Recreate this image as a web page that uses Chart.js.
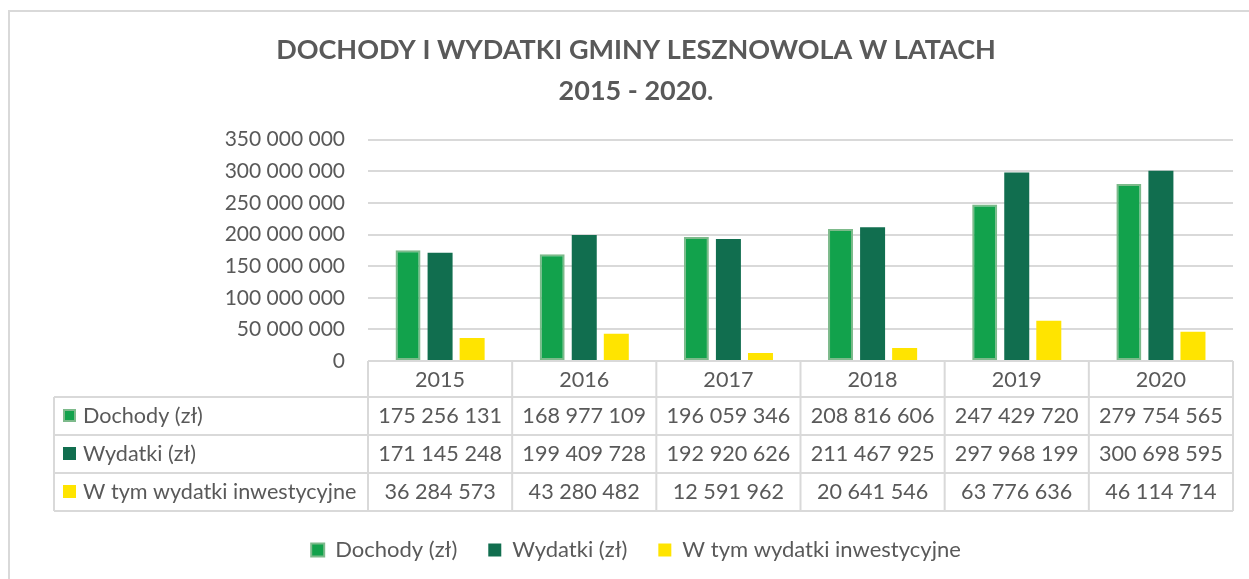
<!DOCTYPE html>
<html lang="pl">
<head>
    <meta charset="UTF-8">
    <title>Dochody i wydatki Gminy Lesznowola</title>
    <script src="https://cdn.jsdelivr.net/npm/chart.js"></script>
    <style>
        html, body { margin: 0; padding: 0; background: #fff; }
        #wrap { position: relative; width: 1249px; height: 579px; }
    </style>
</head>
<body>
    <div id="wrap">
        <canvas id="budgetChart" width="1249" height="579"></canvas>
    </div>
    <script>
        // dane budżetowe 2015-2020
        const years = ['2015', '2016', '2017', '2018', '2019', '2020'];
        const dochody = [175256131, 168977109, 196059346, 208816606, 247429720, 279754565];
        const wydatki = [171145248, 199409728, 192920626, 211467925, 297968199, 300698595];
        const inwestycyjne = [36284573, 43280482, 12591962, 20641546, 63776636, 46114714];

        const seriesNames = ['Dochody (zł)', 'Wydatki (zł)', 'W tym wydatki inwestycyjne'];
        const seriesFill = ['#12a24c', '#116e4f', '#ffe400'];
        const seriesBorder = ['#7dba8b', '#116e4f', '#ffe400'];

        const textColor = '#595959';
        const lineColor = '#d9d9d9';
        const fontFamily = 'Lato, "Open Sans", sans-serif';

        function fmt(v) {
            return String(v).replace(/\B(?=(\d{3})+(?!\d))/g, ' ');
        }

        // ramka wykresu
        const framePlugin = {
            id: 'frame',
            beforeDraw(chart) {
                const ctx = chart.ctx;
                ctx.save();
                ctx.strokeStyle = lineColor;
                ctx.lineWidth = 2;
                ctx.beginPath();
                ctx.moveTo(9, chart.height);
                ctx.lineTo(9, 11);
                ctx.lineTo(chart.width, 11);
                ctx.stroke();
                ctx.restore();
            }
        };

        // tabela danych pod osią X
        const dataTablePlugin = {
            id: 'dataTable',
            afterDraw(chart) {
                const ctx = chart.ctx;
                const xs = chart.scales.x;
                const area = chart.chartArea;
                const n = years.length;
                const colW = (area.right - area.left) / n;
                const tableLeft = 54;
                const headTop = area.bottom;
                const rowTops = [headTop + 36, headTop + 74, headTop + 112];
                const tableBottom = headTop + 150;
                const rows = [dochody, wydatki, inwestycyjne];

                ctx.save();
                ctx.strokeStyle = lineColor;
                ctx.lineWidth = 2;
                ctx.beginPath();
                // górna linia nagłówka
                ctx.moveTo(area.left, headTop);
                ctx.lineTo(area.right, headTop);
                // linie wierszy
                rowTops.concat([tableBottom]).forEach(y => {
                    ctx.moveTo(tableLeft, y);
                    ctx.lineTo(area.right, y);
                });
                // linie kolumn
                for (let i = 0; i <= n; i++) {
                    const x = area.left + i * colW;
                    ctx.moveTo(x, headTop);
                    ctx.lineTo(x, tableBottom);
                }
                ctx.moveTo(tableLeft, rowTops[0]);
                ctx.lineTo(tableLeft, tableBottom);
                ctx.stroke();

                ctx.fillStyle = textColor;
                ctx.font = '21.6px ' + fontFamily;
                ctx.textAlign = 'center';
                ctx.textBaseline = 'middle';
                years.forEach((y, i) => {
                    ctx.fillText(y, xs.getPixelForValue(i), headTop + 19);
                });
                rows.forEach((vals, r) => {
                    const mid = rowTops[r] + 19;
                    vals.forEach((v, i) => {
                        ctx.fillText(fmt(v), xs.getPixelForValue(i), mid);
                    });
                    // znacznik serii
                    ctx.fillStyle = seriesFill[r];
                    ctx.fillRect(63, mid - 7, 13, 13);
                    if (seriesBorder[r] !== seriesFill[r]) {
                        ctx.strokeStyle = seriesBorder[r];
                        ctx.lineWidth = 2;
                        ctx.strokeRect(64, mid - 6, 11, 11);
                    }
                    ctx.fillStyle = textColor;
                    ctx.textAlign = 'left';
                    ctx.fillText(seriesNames[r], 83, mid);
                    ctx.textAlign = 'center';
                });
                ctx.restore();
            }
        };

        const datasets = [dochody, wydatki, inwestycyjne].map((vals, i) => ({
            label: seriesNames[i],
            data: vals,
            backgroundColor: seriesFill[i],
            borderColor: seriesBorder[i],
            borderWidth: i === 0 ? 2 : 0,
            borderSkipped: false,
            categoryPercentage: 0.667,
            barPercentage: 0.78
        }));

        new Chart(document.getElementById('budgetChart'), {
            type: 'bar',
            data: { labels: years, datasets: datasets },
            plugins: [framePlugin, dataTablePlugin],
            options: {
                responsive: false,
                animation: false,
                layout: { padding: { left: 39, right: 16, top: 0, bottom: 8 } },
                plugins: {
                    title: {
                        display: true,
                        text: ['DOCHODY I WYDATKI GMINY LESZNOWOLA W LATACH', '2015 - 2020.'],
                        color: textColor,
                        font: { family: fontFamily, size: 27, weight: 'bold', lineHeight: 1.55 },
                        padding: { top: 29, bottom: 27 }
                    },
                    legend: {
                        position: 'bottom',
                        labels: {
                            color: textColor,
                            font: { family: fontFamily, size: 22 },
                            boxWidth: 13,
                            boxHeight: 13,
                            padding: 31
                        }
                    },
                    tooltip: { enabled: false }
                },
                scales: {
                    x: {
                        grid: { display: false },
                        border: { display: false },
                        ticks: { display: false },
                        afterFit(scale) { scale.height = 147; }
                    },
                    y: {
                        min: 0,
                        max: 350000000,
                        ticks: {
                            stepSize: 50000000,
                            color: textColor,
                            font: { family: fontFamily, size: 21 },
                            padding: 23,
                            callback: v => fmt(v)
                        },
                        grid: { color: lineColor, lineWidth: 2, drawTicks: false },
                        border: { display: false },
                        afterFit(scale) { scale.width = 329; }
                    }
                }
            }
        });
    </script>
</body>
</html>
